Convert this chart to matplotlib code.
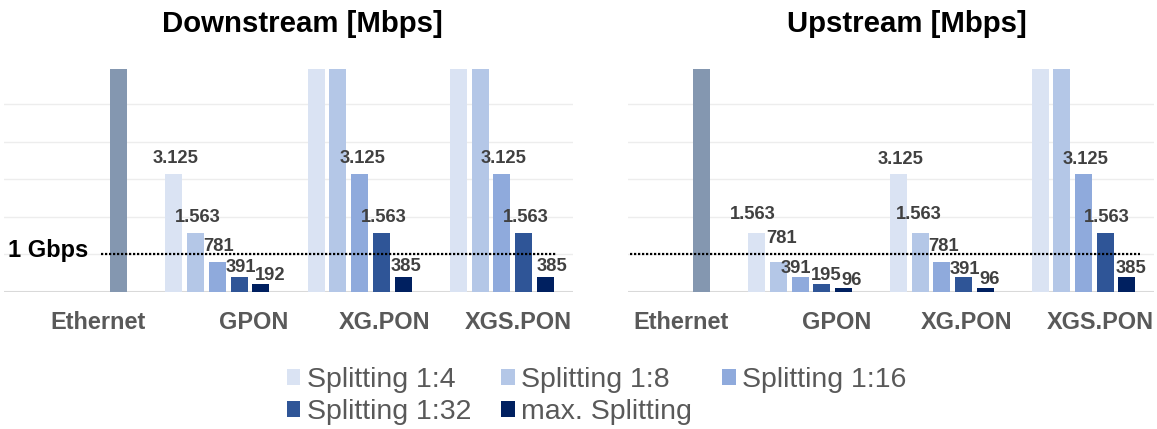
import matplotlib
matplotlib.use("Agg")
import matplotlib.pyplot as plt
from matplotlib.patches import Patch
import numpy as np

# ---- data -------------------------------------------------------------
categories = ["Ethernet", "GPON", "XG.PON", "XGS.PON"]
series_names = ["Splitting 1:4", "Splitting 1:8", "Splitting 1:16",
                "Splitting 1:32", "max. Splitting"]

ethernet_down = 10000
ethernet_up = 10000

# values per splitting ratio for GPON, XG.PON, XGS.PON  [Mbps]
down_1_4 = [3125, 12500, 12500]
down_1_8 = [1563, 6250, 6250]
down_1_16 = [781, 3125, 3125]
down_1_32 = [391, 1563, 1563]
down_max = [192, 385, 385]

up_1_4 = [1563, 3125, 12500]
up_1_8 = [781, 1563, 6250]
up_1_16 = [391, 781, 3125]
up_1_32 = [195, 391, 1563]
up_max = [96, 96, 385]

gbps_line = 1000

downstream = [down_1_4, down_1_8, down_1_16, down_1_32, down_max]
upstream = [up_1_4, up_1_8, up_1_16, up_1_32, up_max]

# ---- styling ----------------------------------------------------------
colors = ["#DAE3F3", "#B4C7E7", "#8FAADC", "#2F5597", "#002060"]
ethernet_color = "#8497B0"
label_color = "#404040"
axis_text_color = "#595959"
plt.rcParams["font.family"] = ["Liberation Sans", "DejaVu Sans"]

slot = 0.1528
bar_w = 0.1195
y_top = 5930

# per-label nudges (dx, dy) in pixels, for GPON / XG.PON / XGS.PON
down_nudge = [
    [(2, 11.7), None, None],
    [(2.5, 11.1), None, None],
    [(1.5, 11.1), (2.5, 11.7), (1.7, 11.7)],
    [(2, 5.4), (2.5, 11.1), (2, 11.1)],
    [(9, 4.1), (2.5, 5.8), (7, 5.8)],
]
up_nudge = [
    [(-4.5, 14.4), (2.3, 10.7), None],
    [(3.5, 19), (-1.5, 14.4), None],
    [(-3.8, 4.1), (1.5, 11.1), (1.5, 10.7)],
    [(4.5, 4.1), (1.5, 3.5), (2, 11.1)],
    [(8.2, 2.7), (4, 4.2), (3.8, 4.1)],
]
tick_shift = [0.16, 0.255, 0.177, 0.117]

W, H = 1157, 429
fig = plt.figure(figsize=(W / 100, H / 100), dpi=100)


def fmt(v):
    return f"{v:,}".replace(",", ".")


def panel(rect, xlim, eth, data, nudges, line_span):
    ax = fig.add_axes(rect)
    ax.set_xlim(*xlim)
    ax.set_ylim(0, y_top)
    for s in ax.spines.values():
        s.set_visible(False)
    ax.set_yticks([1000, 2000, 3000, 4000, 5000])
    ax.yaxis.grid(True, color="#EDEDED", linewidth=1.0, zorder=0)
    ax.tick_params(axis="y", length=0, labelleft=False)
    ax.set_axisbelow(True)
    ax.axhline(0, color="#D9D9D9", linewidth=1.5, zorder=1)

    # Ethernet bar sits in the last slot of its group
    ax.bar(0 + 2 * slot, eth, width=bar_w, color=ethernet_color, zorder=2)
    cat_x = np.arange(1, 4)
    for i, (vals, col) in enumerate(zip(data, colors)):
        xs = cat_x + (i - 2) * slot
        ax.bar(xs, vals, width=bar_w, color=col, zorder=2)
        for x, v, nd in zip(xs, vals, nudges[i]):
            if nd is None or v > y_top:
                continue
            ax.annotate(fmt(v), xy=(x, v), xytext=nd,
                        textcoords="offset pixels", ha="center",
                        va="baseline", fontsize=13.2, fontweight="bold",
                        color=label_color, zorder=4)

    ax.hlines(gbps_line, line_span[0], line_span[1], colors="black",
              linewidth=1.6, linestyles=(0, (1, 0.8)), zorder=3)

    ax.set_xticks(np.arange(4) + np.array(tick_shift))
    ax.set_xticklabels(categories, fontsize=16.9, fontweight="bold",
                       color=axis_text_color)
    ax.tick_params(axis="x", length=0, pad=14.2)
    return ax


bottom = (H - 291.7) / H
height = (291.7 - 69.3) / H
panel([4 / W, bottom, 569 / W, height], (-0.5, 3.5), ethernet_down,
      downstream, down_nudge, (0.18, 3.386))
panel([628 / W, bottom, 526 / W, height], (-0.215, 3.497), ethernet_up,
      upstream, up_nudge, (-0.2, 3.397))

fig.text(302 / W, 1 - 31.7 / H, "Downstream [Mbps]", ha="center",
         va="baseline", fontsize=21.2, fontweight="bold", color="black")
fig.text(907 / W, 1 - 31.7 / H, "Upstream [Mbps]", ha="center",
         va="baseline", fontsize=21.2, fontweight="bold", color="black")
fig.text(8 / W, 1 - 257.3 / H, "1 Gbps", ha="left", va="baseline",
         fontsize=17, fontweight="bold", color="black")

# legend, filled row by row
handles = [Patch(facecolor=c, edgecolor="none") for c in colors]
order = [0, 3, 1, 4, 2]
leg = fig.legend([handles[i] for i in order], [series_names[i] for i in order],
                 ncol=3, loc="upper left",
                 bbox_to_anchor=(286.5 / W, 1 - 367 / H),
                 frameon=False, fontsize=20.5, borderpad=0, borderaxespad=0,
                 handlelength=0.49, handleheight=0.49, handletextpad=0.22,
                 columnspacing=1.05, labelspacing=0.2)
for t in leg.get_texts():
    t.set_color(axis_text_color)

fig.savefig("out.png", dpi=100)
